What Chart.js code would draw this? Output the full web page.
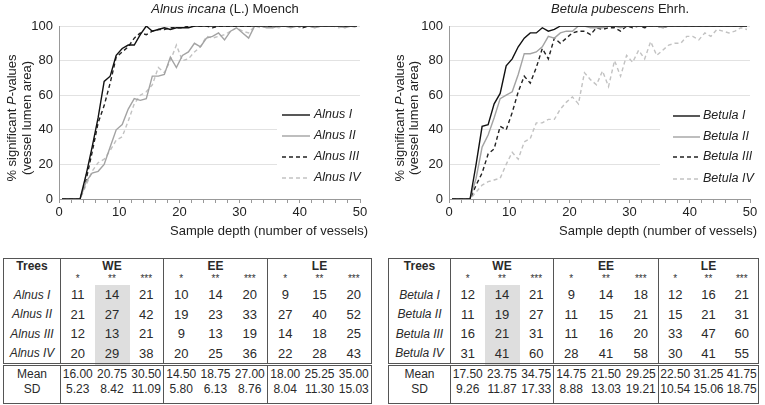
<!DOCTYPE html>
<html lang="en">
<head>
<meta charset="UTF-8" />
<title>Sample depth curves</title>
<script src="https://cdn.jsdelivr.net/npm/chart.js"></script>
<style>
  body {
    margin: 0;
    width: 765px;
    height: 405px;
    overflow: hidden;
    position: relative;
    background: #fff;
    font-family: 'Liberation Sans', Arial, sans-serif;
    color: #222;
  }
  canvas { position: absolute; top: 0; }
  #alnusChart { left: 0; }
  #betulaChart { left: 385px; }

  table.depth {
    position: absolute;
    top: 258px;
    border-collapse: collapse;
    table-layout: fixed;
    border: 1px solid #555;
    font-size: 13px;
    color: #2a2a2a;
  }
  table.depth td { padding: 0; text-align: center; vertical-align: middle; line-height: 1; color: #2a2a2a; }
  table.depth .g { border-left: 1px solid #555; }
  table.depth .hd { font-weight: bold; font-size: 12px; height: 11px; vertical-align: top; padding-top: 1px; }
  table.depth .st { font-size: 10px; height: 13px; color: #333; }
  table.depth .row td { height: 19.5px; }
  table.depth .tree { font-style: italic; font-size: 12px; }
  table.depth .shade { background: #dedede; }
  table.depth .mean td { border-top: 3px double #555; height: 15px; font-size: 12px; }
  table.depth .sd td { height: 20px; font-size: 12px; vertical-align: top; padding-top: 2px; }
  #alnusTable { left: 3px; }
  #betulaTable { left: 388px; }
</style>
</head>
<body>

<canvas id="alnusChart" width="382" height="240"></canvas>
<canvas id="betulaChart" width="380" height="240"></canvas>
<table class="depth" id="alnusTable"></table>
<table class="depth" id="betulaTable"></table>

<script>
// sample depth (number of vessels)
const depth = Array.from({ length: 50 }, (_, i) => i + 1);

// % significant P-values, one value per sample depth 1..50
const alnusI = [0,0,0,0,14,30,47,68,71,83,87,89,89,95,100,97,98,99,98,99,99,99,100,
  100,100,100,100,100,100,100,100,100,100,100,100,100,100,100,100,100,100,100,100,100,100,100,100,100,100,100];
const alnusII = [0,0,0,0,10,15,16,20,30,40,43,52,58,57,58,71,71,72,82,76,83,85,90,88,93,94,96,92,97,99,96,93,100,100,99,99,
  100,100,99,100,100,100,99,100,100,100,100,99,100,100];
const alnusIII = [0,0,0,0,11,27,44,54,67,82,85,88,93,96,95,97,98,98,99,99,99,100,
  100,100,100,99,100,100,100,100,100,100,100,100,100,100,100,100,100,100,99,100,100,100,100,100,100,100,100,100];
const alnusIV = [0,0,0,0,8,16,21,23,28,34,36,45,55,60,62,66,76,73,80,89,80,81,85,88,94,93,94,95,97,99,97,96,100,
  99,100,100,99,100,100,100,99,100,99,100,100,100,99,100,100,99];

const betulaI = [0,0,0,0,20,42,43,55,61,77,81,88,93,96,96,99,97,98,100,
  100,100,100,100,100,100,100,100,100,100,100,100,100,100,100,100,100,100,100,100,100,100,100,100,100,100,100,100,100,100,100];
const betulaII = [0,0,0,0,12,30,37,47,58,60,62,72,84,84,85,88,94,93,96,97,97,100,100,99,99,
  99,100,100,99,100,100,100,100,100,100,99,100,100,100,100,100,100,100,100,100,100,100,100,100,100];
const betulaIII = [0,0,0,0,8,15,26,29,42,40,50,62,71,67,76,87,81,93,90,93,96,97,97,95,99,98,99,99,97,100,
  99,100,99,100,100,99,100,100,100,100,100,100,100,100,100,100,100,100,100,100];
const betulaIV = [0,0,0,0,4,8,10,11,12,20,27,23,33,35,44,44,46,46,52,56,59,55,73,69,66,74,65,80,71,83,79,86,81,91,83,86,
  89,90,90,94,94,92,96,94,98,97,96,97,99,98];

const xTicks = [0, 10, 20, 30, 40, 50];
const yTicks = [0, 20, 40, 60, 80, 100];

// table data
const wood = ['WE', 'EE', 'LE'];
const levels = ['*', '**', '***'];
const alnusTrees = ['Alnus I', 'Alnus II', 'Alnus III', 'Alnus IV'];
const alnusDepths = [
  [11, 14, 21, 10, 14, 20, 9, 15, 20],
  [21, 27, 42, 19, 23, 33, 27, 40, 52],
  [12, 13, 21, 9, 13, 19, 14, 18, 25],
  [20, 29, 38, 20, 25, 36, 22, 28, 43]
];
const alnusMean = ['16.00', '20.75', '30.50', '14.50', '18.75', '27.00', '18.00', '25.25', '35.00'];
const alnusSD = ['5.23', '8.42', '11.09', '5.80', '6.13', '8.76', '8.04', '11.30', '15.03'];
const betulaTrees = ['Betula I', 'Betula II', 'Betula III', 'Betula IV'];
const betulaDepths = [
  [12, 14, 21, 9, 14, 18, 12, 16, 21],
  [11, 19, 27, 11, 15, 21, 15, 21, 31],
  [16, 21, 31, 11, 16, 20, 33, 47, 60],
  [31, 41, 60, 28, 41, 58, 30, 41, 55]
];
const betulaMean = ['17.50', '23.75', '34.75', '14.75', '21.50', '29.25', '22.50', '31.25', '41.75'];
const betulaSD = ['9.26', '11.87', '17.33', '8.88', '13.03', '19.21', '10.54', '15.06', '18.75'];

const FONT = "'Liberation Sans', Arial, sans-serif";

function pts(values) {
  return values.map((v, i) => ({ x: depth[i] - 0.5, y: v }));
}

function series(label, values, color, dash) {
  return {
    label: label,
    data: pts(values),
    borderColor: color,
    borderWidth: 1.4,
    borderDash: dash,
    pointRadius: 0,
    tension: 0,
    fill: false
  };
}

// titles, axis titles and legend drawn by hand (mixed italic text)
function drawParts(ctx, parts, x, y, align) {
  let total = 0;
  parts.forEach(p => {
    ctx.font = (p.i ? 'italic ' : '') + '13px ' + FONT;
    p.w = ctx.measureText(p.t).width;
    total += p.w;
  });
  let cx = align === 'center' ? x - total / 2 : (align === 'right' ? x - total : x);
  ctx.textAlign = 'left';
  parts.forEach(p => {
    ctx.font = (p.i ? 'italic ' : '') + '13px ' + FONT;
    ctx.fillText(p.t, cx, y);
    cx += p.w;
  });
}

const decoPlugin = {
  id: 'deco',
  afterDraw(chart, args, o) {
    const ctx = chart.ctx;
    ctx.save();
    ctx.fillStyle = '#222';
    ctx.textBaseline = 'middle';
    drawParts(ctx, o.title, o.titleX, 9, 'center');
    drawParts(ctx, [{ t: 'Sample depth (number of vessels)' }], o.xTitleRight, 231, 'right');

    ctx.save();
    ctx.translate(o.yTitleX1, 118);
    ctx.rotate(-Math.PI / 2);
    drawParts(ctx, [{ t: '% significant ' }, { t: 'P', i: true }, { t: '-values' }], 0, 0, 'center');
    ctx.restore();
    ctx.save();
    ctx.translate(o.yTitleX2, 118);
    ctx.rotate(-Math.PI / 2);
    drawParts(ctx, [{ t: '(vessel lumen area)' }], 0, 0, 'center');
    ctx.restore();

    // legend box hides the grid lines behind it
    ctx.fillStyle = '#fff';
    ctx.fillRect(o.boxLeft, 103, chart.chartArea.right - o.boxLeft + 1, 88);
    chart.data.datasets.forEach((ds, i) => {
      const y = o.rows[i];
      ctx.beginPath();
      ctx.strokeStyle = ds.borderColor;
      ctx.lineWidth = 1.4;
      ctx.setLineDash(ds.borderDash || []);
      ctx.moveTo(o.lineX[0], y);
      ctx.lineTo(o.lineX[1], y);
      ctx.stroke();
      ctx.setLineDash([]);
      ctx.fillStyle = '#222';
      ctx.font = 'italic 12.5px ' + FONT;
      ctx.textAlign = 'left';
      ctx.fillText(ds.label, o.textX, y);
    });
    ctx.restore();
  }
};

function makeChart(id, datasets, yWidth, rightPad, deco) {
  return new Chart(document.getElementById(id), {
    type: 'line',
    data: { datasets: datasets },
    plugins: [decoPlugin],
    options: {
      responsive: false,
      animation: false,
      devicePixelRatio: 1,
      layout: { padding: { left: 0, top: 26, right: rightPad, bottom: 0 } },
      plugins: {
        legend: { display: false },
        tooltip: { enabled: false },
        deco: deco
      },
      scales: {
        x: {
          type: 'linear',
          min: 0,
          max: 50,
          afterFit(scale) { scale.height = 41; },
          afterBuildTicks(scale) {
            const t = [];
            for (let v = 0; v <= 50; v += 2) t.push({ value: v });
            scale.ticks = t;
          },
          ticks: {
            autoSkip: false,
            maxRotation: 0,
            padding: 2,
            color: '#222',
            font: { family: FONT, size: 13 },
            callback: v => xTicks.includes(v) ? v : ''
          },
          grid: { drawOnChartArea: false, drawTicks: true, tickLength: 4, color: '#999' },
          border: { color: '#999' }
        },
        y: {
          min: 0,
          max: 100,
          afterFit(scale) { scale.width = yWidth; },
          afterBuildTicks(scale) { scale.ticks = yTicks.map(v => ({ value: v })); },
          ticks: {
            padding: 6,
            color: '#222',
            font: { family: FONT, size: 13 }
          },
          grid: { color: '#e2e2e2', drawTicks: false },
          border: { color: '#999' }
        }
      }
    }
  });
}

makeChart('alnusChart', [
  series('Alnus I', alnusI, '#111', []),
  series('Alnus II', alnusII, '#a3a3a3', []),
  series('Alnus III', alnusIII, '#222', [4, 3]),
  series('Alnus IV', alnusIV, '#c2c2c2', [4, 3])
], 59, 22, {
  title: [{ t: 'Alnus incana', i: true }, { t: ' (L.) Moench' }],
  titleX: 225, xTitleRight: 368, yTitleX1: 12, yTitleX2: 27,
  boxLeft: 277, lineX: [282, 310], textX: 314, rows: [115, 136, 157, 178]
});

makeChart('betulaChart', [
  series('Betula I', betulaI, '#111', []),
  series('Betula II', betulaII, '#a3a3a3', []),
  series('Betula III', betulaIII, '#222', [4, 3]),
  series('Betula IV', betulaIV, '#c2c2c2', [4, 3])
], 64, 15, {
  title: [{ t: 'Betula pubescens', i: true }, { t: ' Ehrh.' }],
  titleX: 235, xTitleRight: 372, yTitleX1: 15, yTitleX2: 29,
  boxLeft: 275, lineX: [288, 315], textX: 318, rows: [116, 137, 157, 179]
});

// tables
function buildTable(id, widths, trees, depths, mean, sd) {
  const tbl = document.getElementById(id);
  let html = '<colgroup>' + widths.map(w => '<col style="width:' + w + 'px">').join('') + '</colgroup>';
  html += '<tr><td class="hd" rowspan="2">Trees</td>' +
    wood.map(w => '<td class="hd g" colspan="3">' + w + '</td>').join('') + '</tr>';
  html += '<tr>' + wood.map(() => levels.map((l, k) =>
    '<td class="st' + (k === 0 ? ' g' : '') + '">' + l + '</td>').join('')).join('') + '</tr>';
  trees.forEach((t, r) => {
    html += '<tr class="row"><td class="tree">' + t + '</td>' + depths[r].map((v, c) =>
      '<td class="' + (c % 3 === 0 ? 'g' : '') + (c === 1 ? ' shade' : '') + '">' + v + '</td>').join('') + '</tr>';
  });
  html += '<tr class="mean"><td>Mean</td>' + mean.map((v, c) =>
    '<td class="' + (c % 3 === 0 ? 'g' : '') + '">' + v + '</td>').join('') + '</tr>';
  html += '<tr class="sd"><td>SD</td>' + sd.map((v, c) =>
    '<td class="' + (c % 3 === 0 ? 'g' : '') + '">' + v + '</td>').join('') + '</tr>';
  tbl.innerHTML = html;
}

buildTable('alnusTable', [57, 34, 35, 34, 35, 34, 35, 35, 34, 35], alnusTrees, alnusDepths, alnusMean, alnusSD);
buildTable('betulaTable', [62, 34, 35, 34, 35, 35, 35, 33, 34, 33], betulaTrees, betulaDepths, betulaMean, betulaSD);
</script>
</body>
</html>
